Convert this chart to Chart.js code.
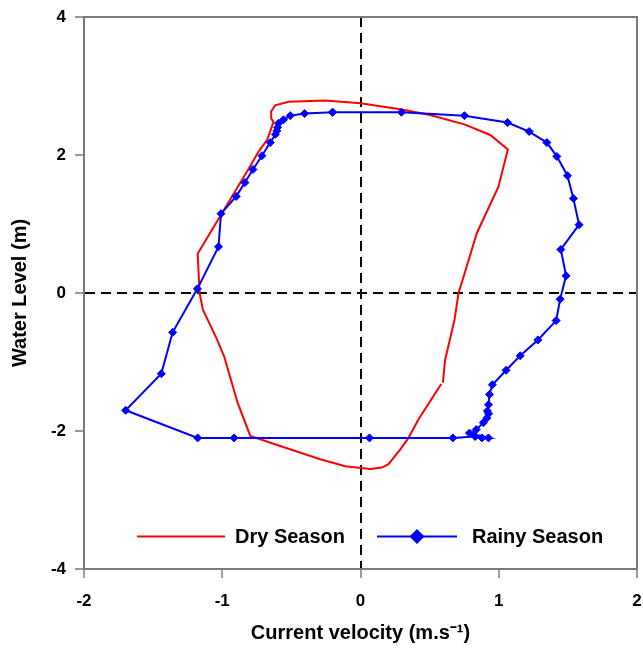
<!DOCTYPE html>
<html>
<head>
<meta charset="utf-8">
<script src="https://cdn.jsdelivr.net/npm/chart.js@4.4.1/dist/chart.umd.min.js"></script>
<style>
  html, body { margin: 0; padding: 0; background: #fff; }
  canvas { display: block; }
</style>
</head>
<body>
<canvas id="chart" width="643" height="649"></canvas>
<script>
// dry season loop (no markers), starts/ends near (0.6, -1.3)
const dryVelocity = [0.596, 0.612, 0.68, 0.709, 0.74, 0.842, 0.998, 1.066, 0.938, 0.757, 0.504, 0.299, 0.0, -0.255, -0.52, -0.617, -0.646, -0.646, -0.629, -0.675, -0.737, -0.80, -1.178, -1.164, -1.14, -1.043, -0.986, -0.889, -0.797, -0.532, -0.291, -0.11, 0.07, 0.155, 0.202, 0.287, 0.347, 0.42, 0.584];
const dryLevel = [-1.30, -0.97, -0.39, 0.0, 0.20, 0.87, 1.54, 2.08, 2.29, 2.44, 2.58, 2.66, 2.75, 2.79, 2.77, 2.72, 2.63, 2.53, 2.48, 2.22, 2.05, 1.83, 0.57, 0.0, -0.24, -0.65, -0.92, -1.59, -2.07, -2.25, -2.41, -2.51, -2.55, -2.53, -2.48, -2.27, -2.10, -1.83, -1.32];

// rainy season loop (diamond markers)
const rainyVelocity = [-0.202, -0.405, -0.508, -0.557, -0.593, -0.60, -0.605, -0.615, -0.653, -0.713, -0.778, -0.836, -0.899, -1.009, -1.027, -1.18, -1.359, -1.441, -1.699, -1.178, -0.915, 0.065, 0.668, 0.829, 0.878, 0.926, 0.788, 0.817, 0.837, 0.889, 0.914, 0.926, 0.918, 0.926, 0.933, 0.954, 1.053, 1.155, 1.283, 1.415, 1.444, 1.487, 1.449, 1.581, 1.54, 1.497, 1.42, 1.348, 1.22, 1.063, 0.752, 0.296, -0.202];
const rainyLevel = [2.62, 2.60, 2.57, 2.51, 2.46, 2.40, 2.35, 2.30, 2.18, 1.99, 1.79, 1.60, 1.40, 1.15, 0.67, 0.06, -0.57, -1.17, -1.70, -2.10, -2.10, -2.10, -2.10, -2.08, -2.10, -2.10, -2.03, -2.05, -1.98, -1.88, -1.81, -1.75, -1.71, -1.62, -1.47, -1.33, -1.12, -0.91, -0.68, -0.40, -0.09, 0.25, 0.63, 0.99, 1.37, 1.70, 1.98, 2.18, 2.34, 2.47, 2.57, 2.62, 2.62];

const xTicks = [-2, -1, 0, 1, 2];
const yTicks = [-4, -2, 0, 2, 4];

const FONT = '"Liberation Sans", Arial, sans-serif';
const AXIS_GRAY = '#7a7a7a';

Chart.defaults.font.family = FONT;
Chart.defaults.color = '#000';

const toPoints = (xs, ys) => xs.map((x, i) => ({ x: x, y: ys[i] }));

// legend drawn inside the plot, near the bottom
const insideLegend = {
  id: 'insideLegend',
  afterDatasetsDraw(chart) {
    const { ctx, chartArea } = chart;
    const y = chartArea.bottom - 32.5;
    const spots = [
      { lineFrom: 53, lineTo: 141, text: 151 },
      { lineFrom: 293, lineTo: 373, text: 388 }
    ];
    ctx.save();
    ctx.font = 'bold 20px ' + FONT;
    ctx.textBaseline = 'middle';
    ctx.fillStyle = '#000';
    chart.data.datasets.forEach((ds, i) => {
      const s = spots[i];
      const x1 = chartArea.left + s.lineFrom, x2 = chartArea.left + s.lineTo;
      ctx.strokeStyle = ds.borderColor;
      ctx.lineWidth = 2;
      ctx.beginPath();
      ctx.moveTo(x1, y);
      ctx.lineTo(x2, y);
      ctx.stroke();
      if (ds.pointRadius > 0) {
        const cx = (x1 + x2) / 2, r = 7.5;
        ctx.fillStyle = ds.borderColor;
        ctx.beginPath();
        ctx.moveTo(cx - r, y);
        ctx.lineTo(cx, y - r);
        ctx.lineTo(cx + r, y);
        ctx.lineTo(cx, y + r);
        ctx.closePath();
        ctx.fill();
        ctx.fillStyle = '#000';
      }
      ctx.fillText(ds.label, chartArea.left + s.text, y + 1);
    });
    ctx.restore();
  }
};

const zeroGrid = {
  color: (c) => (c.tick && c.tick.value === 0 ? '#000' : 'rgba(0,0,0,0)'),
  lineWidth: 2,
  tickColor: AXIS_GRAY,
  tickWidth: 1.5,
  tickLength: 9
};

new Chart(document.getElementById('chart'), {
  type: 'scatter',
  data: {
    datasets: [
      {
        label: 'Dry Season',
        data: toPoints(dryVelocity, dryLevel),
        showLine: true,
        borderColor: '#ff0000',
        borderWidth: 2,
        pointRadius: 0,
        pointHoverRadius: 0,
        tension: 0,
        order: 1
      },
      {
        label: 'Rainy Season',
        data: toPoints(rainyVelocity, rainyLevel),
        showLine: true,
        borderColor: '#0000ff',
        backgroundColor: '#0000ff',
        borderWidth: 2,
        pointStyle: 'rectRot',
        pointRadius: 4,
        pointBorderWidth: 1,
        pointBackgroundColor: '#0000ff',
        pointBorderColor: '#0000ff',
        tension: 0,
        order: 0
      }
    ]
  },
  options: {
    responsive: false,
    animation: false,
    layout: { padding: 0 },
    plugins: {
      legend: { display: false },
      tooltip: { enabled: false }
    },
    scales: {
      x: {
        type: 'linear',
        position: 'bottom',
        min: -2,
        max: 2,
        afterBuildTicks: (s) => { s.ticks = xTicks.map((v) => ({ value: v })); },
        afterFit: (s) => { s.height = 80; s.paddingLeft = 0; s.paddingRight = 0; },
        ticks: { font: { size: 17, weight: 'bold' }, padding: 13 },
        grid: zeroGrid,
        border: { color: AXIS_GRAY, width: 2, dash: [10, 6] },
        title: {
          display: true,
          text: 'Current velocity (m.s⁻¹)',
          font: { size: 20, weight: 'bold' },
          padding: { top: 0, bottom: 4 }
        }
      },
      y: {
        type: 'linear',
        position: 'left',
        min: -4,
        max: 4,
        afterBuildTicks: (s) => { s.ticks = yTicks.map((v) => ({ value: v })); },
        afterFit: (s) => { s.width = 84; s.paddingTop = 0; s.paddingBottom = 0; },
        ticks: { font: { size: 17, weight: 'bold' }, padding: 9 },
        grid: zeroGrid,
        border: { color: AXIS_GRAY, width: 2, dash: [10, 6] },
        title: {
          display: true,
          text: 'Water Level (m)',
          font: { size: 20, weight: 'bold' },
          padding: { top: 8, bottom: 0 }
        }
      },
      xTop: {
        type: 'linear',
        position: 'top',
        afterFit: (s) => { s.height = 17; },
        ticks: { display: false },
        grid: { drawOnChartArea: false, drawTicks: false },
        border: { color: AXIS_GRAY, width: 2 }
      },
      yRight: {
        type: 'linear',
        position: 'right',
        afterFit: (s) => { s.width = 6; },
        ticks: { display: false },
        grid: { drawOnChartArea: false, drawTicks: false },
        border: { color: AXIS_GRAY, width: 2 }
      }
    }
  },
  plugins: [insideLegend]
});
</script>
</body>
</html>
